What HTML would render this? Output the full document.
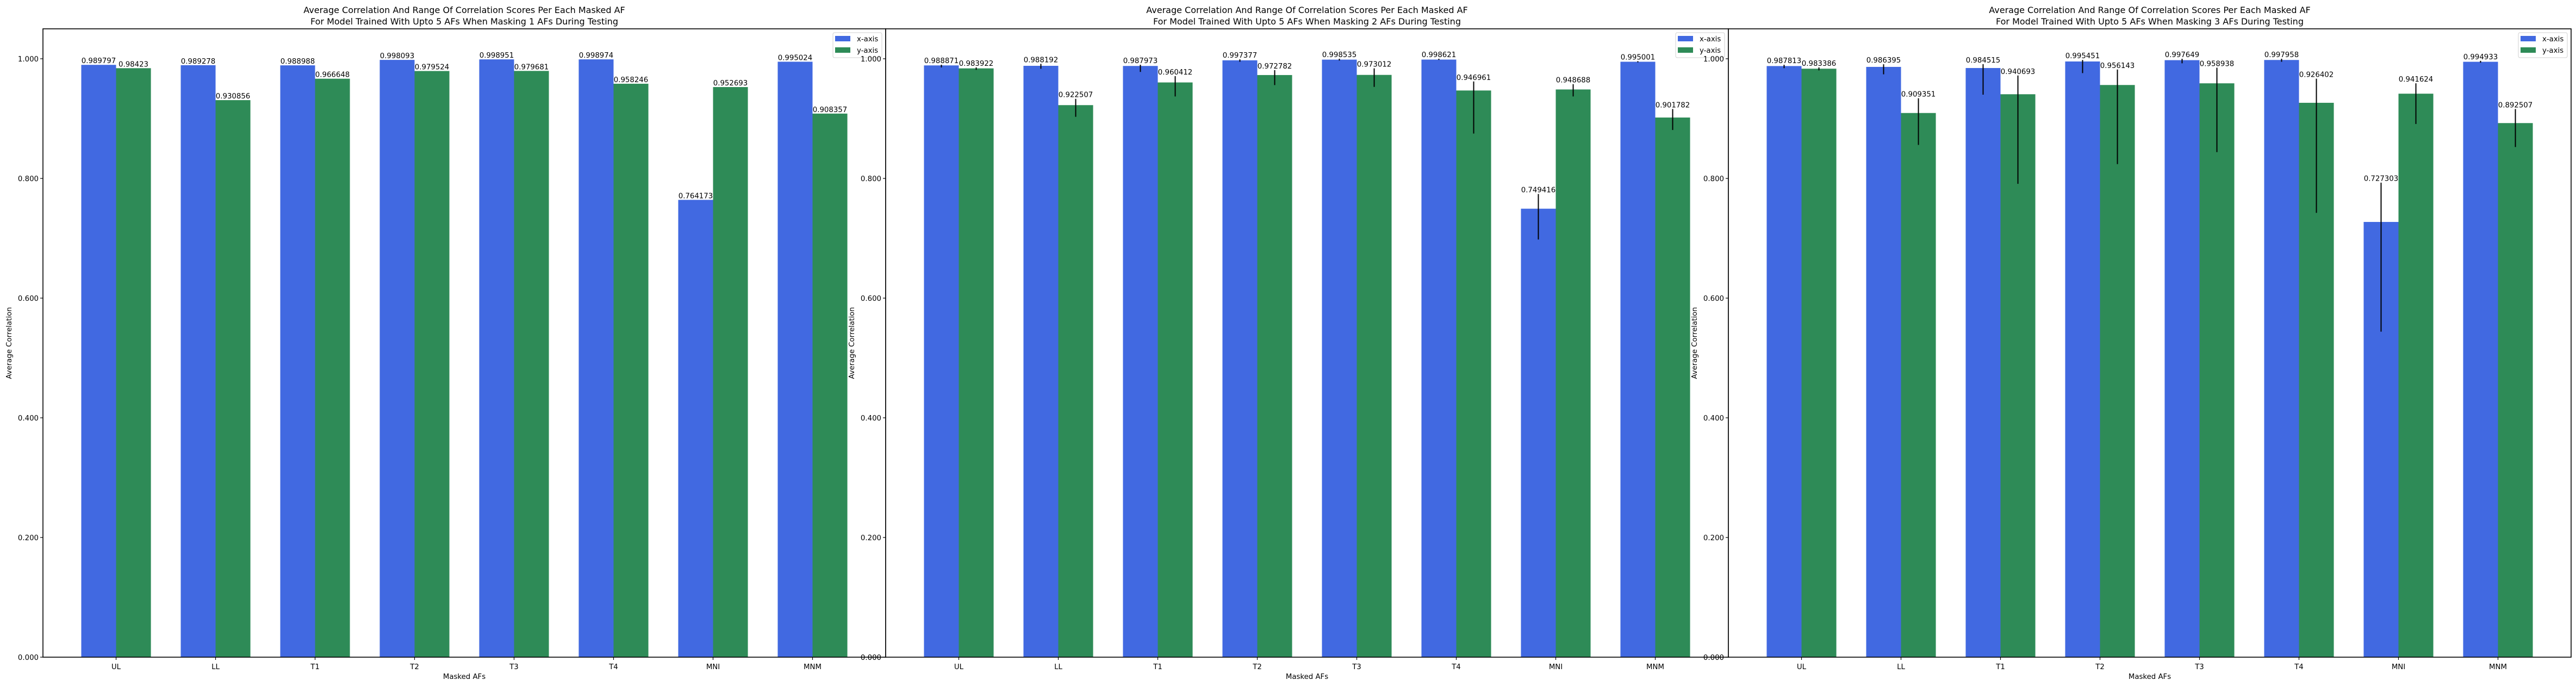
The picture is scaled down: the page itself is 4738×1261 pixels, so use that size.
<!DOCTYPE html>
<html><head><meta charset="utf-8"><style>
html,body{margin:0;padding:0;background:#fff;}
svg{display:block;}
text{font-family:"DejaVu Sans","Liberation Sans",sans-serif;fill:#000;}
</style></head>
<body>
<svg id="fig" xmlns="http://www.w3.org/2000/svg" width="4738" height="1261" viewBox="0 0 4738 1261">
<rect x="0" y="0" width="4738" height="1261" fill="#fff"/>
</svg>
<script>
const categories = ["UL","LL","T1","T2","T3","T4","MNI","MNM"];
const yTicks = [0,0.2,0.4,0.6,0.8,1.0];
const yTickLabels = ["0.000","0.200","0.400","0.600","0.800","1.000"];
const titles = ["Masking 1 AFs","Masking 2 AFs","Masking 3 AFs"];
// panel 1
const p1X = [0.989797,0.989278,0.988988,0.998093,0.998951,0.998974,0.764173,0.995024];
const p1Y = [0.98423,0.930856,0.966648,0.979524,0.979681,0.958246,0.952693,0.908357];
const p1XLo = null, p1XHi = null, p1YLo = null, p1YHi = null;
// panel 2
const p2X = [0.988871,0.988192,0.987973,0.997377,0.998535,0.998621,0.749416,0.995001];
const p2Y = [0.983922,0.922507,0.960412,0.972782,0.973012,0.946961,0.948688,0.901782];
const p2XLo = [0.9855,0.9833,0.978,0.995,0.997,0.998,0.698,0.994];
const p2XHi = [0.990,0.9915,0.990,0.999,1.000,1.000,0.774,0.996];
const p2YLo = [0.9815,0.903,0.937,0.956,0.953,0.875,0.937,0.881];
const p2YHi = [0.9855,0.933,0.971,0.981,0.984,0.962,0.9576,0.916];
// panel 3
const p3X = [0.987813,0.986395,0.984515,0.995451,0.997649,0.997958,0.727303,0.994933];
const p3Y = [0.983386,0.909351,0.940693,0.956143,0.958938,0.926402,0.941624,0.892507];
const p3XLo = [0.9843,0.974,0.940,0.976,0.9924,0.995,0.544,0.9935];
const p3XHi = [0.990,0.9908,0.991,0.998,1.000,1.000,0.793,0.9965];
const p3YLo = [0.9806,0.856,0.791,0.824,0.844,0.7425,0.891,0.8525];
const p3YHi = [0.9855,0.934,0.972,0.982,0.985,0.9667,0.959,0.916];

const NS = "http://www.w3.org/2000/svg";
const svg = document.getElementById('fig');
function mk(tag, attrs, parent){
  const e = document.createElementNS(NS, tag);
  for (const k in attrs) e.setAttribute(k, attrs[k]);
  (parent||svg).appendChild(e);
  return e;
}
const panels = [
  {left:79, x:p1X, y:p1Y, xlo:p1XLo, xhi:p1XHi, ylo:p1YLo, yhi:p1YHi},
  {left:1629, x:p2X, y:p2Y, xlo:p2XLo, xhi:p2XHi, ylo:p2YLo, yhi:p2YHi},
  {left:3179, x:p3X, y:p3Y, xlo:p3XLo, xhi:p3XHi, ylo:p3YLo, yhi:p3YHi}
];
const W = 1550, TOP = 53, BOT = 1208, YMAX = 1.05, BW = 0.35;
const XMIN = -0.735, XMAX = 7.735;
function fmt(v){ return String(parseFloat(v.toFixed(6))); }

panels.forEach((p, pi) => {
  const g = mk('g', {});
  
  
  const sx = v => p.left + (v - XMIN) / (XMAX - XMIN) * W;
  const sy = v => BOT - v / YMAX * (BOT - TOP);
  const bg = mk('rect', {x:p.left, y:TOP, width:W, height:BOT-TOP, fill:'#fff'}, g);
  
  
  const series = [
    {vals:p.x, lo:p.xlo, hi:p.xhi, off:-BW/2, color:'#4169e1', name:'x-axis'},
    {vals:p.y, lo:p.ylo, hi:p.yhi, off:BW/2, color:'#2e8b57', name:'y-axis'}
  ];
  series.forEach(s => {
    s.vals.forEach((v, i) => {
      const x0 = sx(i + s.off - BW/2), x1 = sx(i + s.off + BW/2);
      const r = mk('rect', {x:x0, y:sy(v), width:x1-x0, height:sy(0)-sy(v), fill:s.color}, g);
      
      
    });
  });
  series.forEach(s => {
    s.vals.forEach((v, i) => {
      const cx = sx(i + s.off);
      let topV = v;
      if (s.lo) {
        const l = mk('line', {x1:cx, x2:cx, y1:sy(s.hi[i]), y2:sy(s.lo[i]), stroke:'#000', 'stroke-width':2}, g);
        
        
        topV = s.hi[i];
      }
      const t = mk('text', {x:cx, y:sy(topV)-3, 'font-size':13.3, 'text-anchor':'middle'}, g);
      t.textContent = fmt(v);
      
      
    });
  });
  // spines
  const sp = mk('rect', {x:p.left, y:TOP, width:W, height:BOT-TOP, fill:'none', stroke:'#000', 'stroke-width':1.6}, g);
  
  
  // y ticks
  yTicks.forEach((v, i) => {
    mk('line', {x1:p.left-5, x2:p.left, y1:sy(v), y2:sy(v), stroke:'#000', 'stroke-width':1.2}, g);
    const t = mk('text', {x:p.left-8, y:sy(v)+5, 'font-size':13.3, 'text-anchor':'end'}, g);
    t.textContent = yTickLabels[i];
    
    
  });
  // x ticks
  categories.forEach((c, i) => {
    mk('line', {x1:sx(i), x2:sx(i), y1:BOT, y2:BOT+5, stroke:'#000', 'stroke-width':1.2}, g);
    const t = mk('text', {x:sx(i), y:BOT+22, 'font-size':13.3, 'text-anchor':'middle'}, g);
    t.textContent = c;
    
    
  });
  const xl = mk('text', {x:p.left+W/2, y:1248, 'font-size':13.3, 'text-anchor':'middle'}, g);
  xl.textContent = 'Masked AFs';
  
  
  const ylx = p.left - 58, yly = (TOP+BOT)/2;
  const yl = mk('text', {x:ylx, y:yly, 'font-size':13.3, 'text-anchor':'middle', transform:'rotate(-90 '+ylx+' '+yly+')'}, g);
  yl.textContent = 'Average Correlation';
  
  
  const t1 = mk('text', {x:p.left+W/2, y:24, 'font-size':16, 'text-anchor':'middle'}, g);
  t1.textContent = 'Average Correlation And Range Of Correlation Scores Per Each Masked AF';
  
  
  const t2 = mk('text', {x:p.left+W/2, y:45, 'font-size':16, 'text-anchor':'middle'}, g);
  t2.textContent = 'For Model Trained With Upto 5 AFs When ' + titles[pi] + ' During Testing';
  
  
  // legend
  const lx = p.left + W - 97, ly = 60;
  const lg = mk('g', {}, g);
  
  
  mk('rect', {x:lx, y:ly, width:90, height:46, rx:3, fill:'#fff', 'fill-opacity':0.8, stroke:'#d0d0d0', 'stroke-width':1}, lg);
  mk('rect', {x:lx+4, y:ly+6, width:28, height:10, fill:'#4169e1'}, lg);
  mk('rect', {x:lx+4, y:ly+27, width:28, height:10, fill:'#2e8b57'}, lg);
  const a = mk('text', {x:lx+44, y:ly+16, 'font-size':13.3}, lg);
  a.textContent = 'x-axis';
  
  
  const b = mk('text', {x:lx+44, y:ly+37, 'font-size':13.3}, lg);
  b.textContent = 'y-axis';
  
  
});
</script>
</body></html>
